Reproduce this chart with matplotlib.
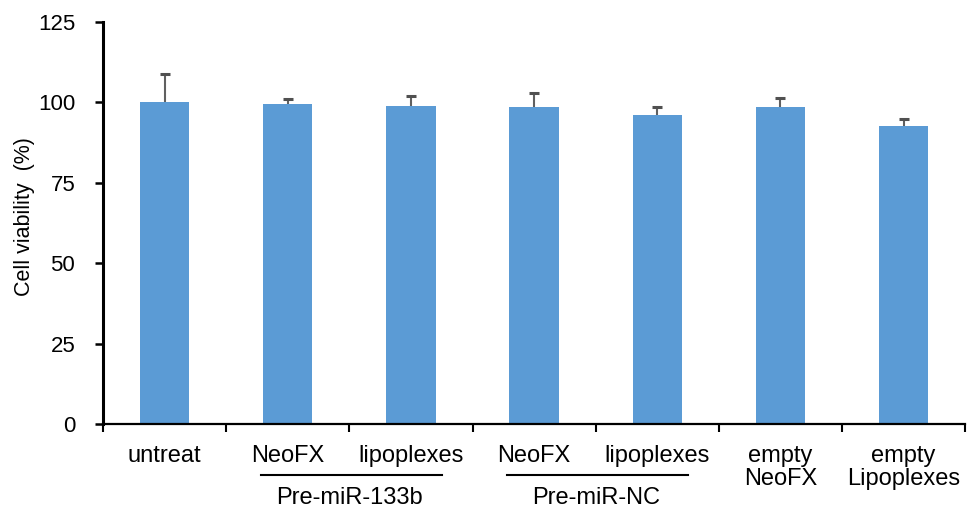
import numpy as np
import matplotlib
matplotlib.use('Agg')
import matplotlib.pyplot as plt
from matplotlib.ticker import FixedLocator

plt.rcParams['font.family'] = ['Liberation Sans', 'DejaVu Sans']

# Datos
categorias = ['untreat', 'NeoFX', 'lipoplexes', 'NeoFX', 'lipoplexes',
              'empty\nNeoFX', 'empty\nLipoplexes']
viabilidad = [100.0, 99.5, 98.9, 98.7, 96.1, 98.6, 92.8]
error = [8.7, 1.7, 3.0, 4.1, 2.6, 2.7, 2.1]
grupos = ['Pre-miR-133b', 'Pre-miR-NC']
grupo_indices = [(1, 2), (3, 4)]
y_ticks = [0, 25, 50, 75, 100, 125]

fig = plt.figure(figsize=(9.72, 5.13), dpi=100)
ax = fig.add_axes([0.106, 0.1735, 0.887, 0.7835])

x = np.arange(len(categorias))
ax.bar(x, viabilidad, width=0.4, color='#5B9BD5', zorder=2)
# barras de error solo hacia arriba (sin tapa inferior)
tope = np.array(viabilidad) + np.array(error)
ax.vlines(x, viabilidad, tope, color='#606060', lw=1.5, zorder=3)
ax.plot(x, tope, linestyle='none', marker='_', markersize=6.5,
        markeredgewidth=2.2, color='#505050', zorder=3)

ax.set_xlim(-0.5, len(categorias) - 0.5)
ax.set_ylim(0, 125)
ax.set_yticks(y_ticks)
ax.set_yticklabels([str(v) for v in y_ticks], fontsize=16)
ax.set_ylabel('Cell viability  (%)', fontsize=15.5)
ax.yaxis.set_label_coords(-0.079, 0.515)

ax.set_xticks(x)
ax.set_xticklabels(categorias, fontsize=17, linespacing=1.05)
ax.tick_params(axis='x', which='major', length=0, pad=15)
ax.xaxis.set_minor_locator(FixedLocator(np.arange(-0.5, len(categorias), 1.0)))
ax.tick_params(axis='x', which='minor', direction='out', length=6, width=1.5)
ax.tick_params(axis='y', direction='out', length=6, width=1.8, pad=14)

for lado in ['top', 'right']:
    ax.spines[lado].set_visible(False)
ax.spines['left'].set_linewidth(2.2)
ax.spines['bottom'].set_linewidth(1.6)

# Lineas y etiquetas de los grupos
trans = ax.get_xaxis_transform()
for nombre, (i0, i1) in zip(grupos, grupo_indices):
    ax.plot([i0 - 0.22, i1 + 0.25], [-0.127, -0.127], color='black', lw=1.5,
            transform=trans, clip_on=False)
    ax.text((i0 + i1) / 2, -0.184, nombre, transform=trans, ha='center',
            va='center', fontsize=17)

fig.savefig('out.png', dpi=100)
